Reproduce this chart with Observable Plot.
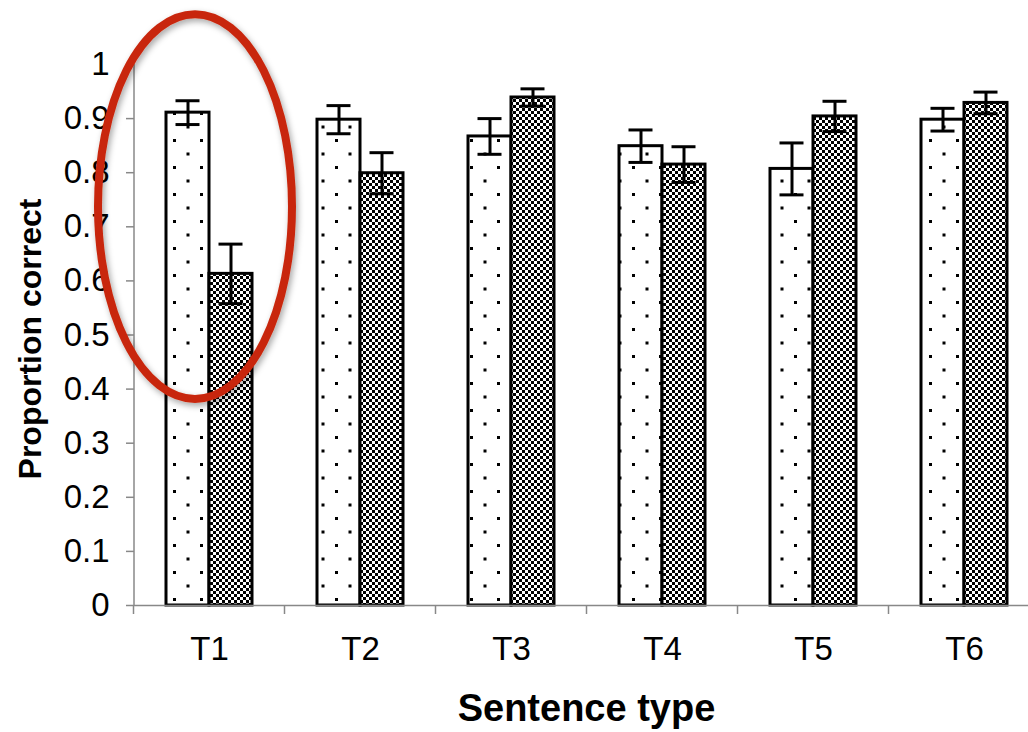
<!DOCTYPE html>
<html><head><meta charset="utf-8">
<script src="https://cdn.jsdelivr.net/npm/d3@7"></script>
<script src="https://cdn.jsdelivr.net/npm/@observablehq/plot@0.6"></script>
<style>html,body{margin:0;padding:0;background:#fff;} svg{display:block;}</style>
</head><body><div id="chart"></div>
<script>
const categories = ["T1", "T2", "T3", "T4", "T5", "T6"];
const dottedValues = [0.911, 0.898, 0.867, 0.849, 0.807, 0.898];
const dottedErrors = [0.022, 0.026, 0.033, 0.030, 0.048, 0.021];
const checkerValues = [0.613, 0.799, 0.939, 0.815, 0.904, 0.929];
const checkerErrors = [0.055, 0.038, 0.016, 0.033, 0.028, 0.020];
const yTicks = [0, 0.1, 0.2, 0.3, 0.4, 0.5, 0.6, 0.7, 0.8, 0.9, 1];
const yTitle = "Proportion correct";
const xTitle = "Sentence type";
const highlighted = "T1";

const rows = categories.map((c, i) => ({
  category: c,
  dotted: dottedValues[i], dottedLo: dottedValues[i] - dottedErrors[i], dottedHi: dottedValues[i] + dottedErrors[i],
  checker: checkerValues[i], checkerLo: checkerValues[i] - checkerErrors[i], checkerHi: checkerValues[i] + checkerErrors[i]
}));

const half = 43;
const plot = Plot.plot({
  width: 1028, height: 732,
  marginLeft: 134, marginRight: 0, marginTop: 64, marginBottom: 127,
  style: {fontFamily: "'Liberation Sans', Arial, sans-serif", background: "#fff", color: "#000"},
  x: {domain: categories, range: [134, 1040], paddingInner: 0.43, paddingOuter: 0.215, align: 0.5},
  y: {domain: [0, 1]},
  marks: [
    Plot.barY(rows, {x: "category", y: "dotted", fill: "url(#dots)", stroke: "#000", strokeWidth: 3, insetRight: half}),
    Plot.barY(rows, {x: "category", y: "checker", fill: "url(#checker)", stroke: "#000", strokeWidth: 3, insetLeft: half}),
    Plot.ruleX(rows, {x: "category", y1: "dottedLo", y2: "dottedHi", dx: -half / 2, stroke: "#000", strokeWidth: 3}),
    Plot.tickY(rows, {x: "category", y: "dottedLo", insetLeft: 9.5, insetRight: 52.5, stroke: "#000", strokeWidth: 3}),
    Plot.tickY(rows, {x: "category", y: "dottedHi", insetLeft: 9.5, insetRight: 52.5, stroke: "#000", strokeWidth: 3}),
    Plot.ruleX(rows, {x: "category", y1: "checkerLo", y2: "checkerHi", dx: half / 2, stroke: "#000", strokeWidth: 3}),
    Plot.tickY(rows, {x: "category", y: "checkerLo", insetLeft: 52.5, insetRight: 9.5, stroke: "#000", strokeWidth: 3}),
    Plot.tickY(rows, {x: "category", y: "checkerHi", insetLeft: 52.5, insetRight: 9.5, stroke: "#000", strokeWidth: 3}),
    Plot.ruleY([0], {stroke: "#888", strokeWidth: 1.5}),
    Plot.axisY(yTicks, {tickSize: 8, tickPadding: 17, fontSize: 33, stroke: "#888", strokeWidth: 1.5, tickFormat: d => String(d), label: null}),
    Plot.axisX({tickSize: 0, tickPadding: 31, fontSize: 33, label: null}),
    Plot.text([yTitle], {frameAnchor: "left", textAnchor: "middle", dx: -104, dy: 4, rotate: -90, fontSize: 32, fontWeight: "bold", fill: "#000"}),
    Plot.text([xTitle], {frameAnchor: "bottom", textAnchor: "middle", dx: 5, dy: 115, fontSize: 38, fontWeight: "bold", fill: "#000"})
  ]
});

const svg = d3.select(plot);
const defs = svg.insert("defs", ":first-child");
const dots = defs.append("pattern").attr("id", "dots").attr("patternUnits", "userSpaceOnUse")
  .attr("x", 11).attr("y", 4).attr("width", 27).attr("height", 27);
dots.append("rect").attr("width", 27).attr("height", 27).attr("fill", "#fff");
dots.append("rect").attr("x", 0).attr("y", 0).attr("width", 3).attr("height", 3).attr("fill", "#000");
dots.append("rect").attr("x", 13.5).attr("y", 13.5).attr("width", 3).attr("height", 3).attr("fill", "#000");
const chk = defs.append("pattern").attr("id", "checker").attr("patternUnits", "userSpaceOnUse")
  .attr("width", 6).attr("height", 6);
chk.append("rect").attr("width", 6).attr("height", 6).attr("fill", "#fff");
chk.append("rect").attr("x", 0).attr("y", 0).attr("width", 3).attr("height", 3).attr("fill", "#000");
chk.append("rect").attr("x", 3).attr("y", 3).attr("width", 3).attr("height", 3).attr("fill", "#000");
const shadow = defs.append("filter").attr("id", "shadow").attr("x", "-20%").attr("y", "-20%").attr("width", "140%").attr("height", "140%");
shadow.append("feDropShadow").attr("dx", 2).attr("dy", 3).attr("stdDeviation", 3).attr("flood-color", "#000").attr("flood-opacity", 0.35);

const xs = plot.scale("x"), ys = plot.scale("y");
const gap = (xs.step - xs.bandwidth) / 2;
const yZero = ys.apply(0), yOne = ys.apply(1);
const g = svg.append("g").attr("stroke", "#888").attr("stroke-width", 1.5);
g.append("line").attr("x1", xs.range[0]).attr("x2", xs.range[0]).attr("y1", yZero).attr("y2", yOne);
const bounds = categories.map(c => xs.apply(c) - gap).concat([xs.apply(categories[categories.length - 1]) + xs.bandwidth + gap]);
bounds.forEach(b => g.append("line").attr("x1", b).attr("x2", b).attr("y1", yZero).attr("y2", yZero + 9));

// highlight ellipse around the first group
const ellCx = xs.apply(highlighted) + xs.bandwidth / 2 - 14;
const ellTop = ys.apply(1.092), ellBottom = ys.apply(0.381);
svg.append("ellipse").attr("cx", ellCx).attr("cy", (ellTop + ellBottom) / 2).attr("rx", 97).attr("ry", (ellBottom - ellTop) / 2)
  .attr("fill", "none").attr("stroke", "#c8280c").attr("stroke-width", 8).attr("filter", "url(#shadow)");

document.getElementById("chart").appendChild(plot);
</script>
</body></html>
